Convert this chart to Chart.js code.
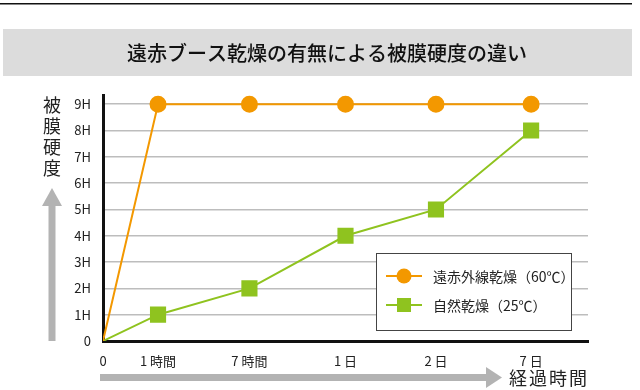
<!DOCTYPE html>
<html>
<head>
<meta charset="utf-8">
<script src="https://cdn.jsdelivr.net/npm/chart.js@4"></script>
<style>
  html, body { margin: 0; padding: 0; background: #fff; }
  canvas { display: block; }
</style>
</head>
<body>
<canvas id="myChart" width="640" height="390"></canvas>
<script>
const xLabels = ['0', '1 時間', '7 時間', '1 日', '2 日', '7 日']
// x positions (first step is shorter)
const xPos = [0, 0.59, 1.57, 2.6, 3.57, 4.59]
const yTicks = [0, 1, 2, 3, 4, 5, 6, 7, 8, 9]
const yLabels = ['0', '1H', '2H', '3H', '4H', '5H', '6H', '7H', '8H', '9H']
const farInfrared = [0, 9, 9, 9, 9, 9]
const natural = [0, 1, 2, 4, 5, 8]

const FONT = '"Noto Sans CJK JP", "Noto Sans", sans-serif'

const toPoints = vals => vals.map((v, i) => ({ x: xPos[i], y: v }))

const decor = {
  id: 'decor',
  beforeDraw(chart) {
    const ctx = chart.ctx
    ctx.save()
    ctx.fillStyle = '#fff'
    ctx.fillRect(0, 0, chart.width, chart.height)

    // top rule
    ctx.fillStyle = '#111'
    ctx.fillRect(0, 3, 632, 1.5)

    // title band
    ctx.fillStyle = '#dcdcdc'
    ctx.fillRect(3, 29, 629, 47)
    ctx.fillStyle = '#111'
    ctx.font = '500 20px ' + FONT
    ctx.textAlign = 'center'
    ctx.textBaseline = 'middle'
    ctx.fillText('遠赤ブース乾燥の有無による被膜硬度の違い', 327, 53)

    // y title, stacked
    ctx.font = '18px ' + FONT
    ctx.fillStyle = '#222'
    '被膜硬度'.split('').forEach((c, i) => ctx.fillText(c, 52, 105 + i * 21))

    // up arrow
    ctx.fillStyle = '#b3b3b3'
    ctx.fillRect(48.5, 203, 7, 138)
    ctx.beginPath()
    ctx.moveTo(52, 188)
    ctx.lineTo(62, 206)
    ctx.lineTo(42, 206)
    ctx.closePath()
    ctx.fill()

    // right arrow
    ctx.fillRect(100, 374, 390, 7)
    ctx.beginPath()
    ctx.moveTo(502, 377.5)
    ctx.lineTo(486, 367)
    ctx.lineTo(486, 388)
    ctx.closePath()
    ctx.fill()

    ctx.fillStyle = '#222'
    ctx.font = '18px ' + FONT
    ctx.textAlign = 'left'
    '経過時間'.split('').forEach((c, i) => ctx.fillText(c, 509 + i * 20, 378))
    ctx.restore()
  },
  afterDraw(chart) {
    const ctx = chart.ctx
    ctx.save()
    ctx.fillStyle = '#fff'
    ctx.fillRect(376.5, 253.5, 195, 77)
    ctx.strokeStyle = '#444'
    ctx.lineWidth = 1
    ctx.strokeRect(376.5, 253.5, 195, 77)

    const rows = [276, 305]
    chart.data.datasets.forEach((ds, i) => {
      const y = rows[i]
      ctx.strokeStyle = ds.borderColor
      ctx.lineWidth = 2
      ctx.beginPath()
      ctx.moveTo(386, y)
      ctx.lineTo(422, y)
      ctx.stroke()
      ctx.fillStyle = ds.pointBackgroundColor
      if (ds.pointStyle === 'rect') {
        ctx.fillRect(397, y - 7, 14, 14)
      } else {
        ctx.beginPath()
        ctx.arc(404, y, 7.5, 0, Math.PI * 2)
        ctx.fill()
      }
      ctx.fillStyle = '#222'
      ctx.font = '14px ' + FONT
      ctx.textAlign = 'left'
      ctx.textBaseline = 'middle'
      ctx.fillText(ds.label, 433, y + 1)
    })
    ctx.restore()
  }
}

const data = {
  datasets: [{
    label: '遠赤外線乾燥（60℃）',
    data: toPoints(farInfrared),
    borderColor: '#f39800',
    pointBackgroundColor: '#f39800',
    pointBorderColor: '#f39800',
    pointStyle: 'circle',
    pointRadius: [0, 7.5, 7.5, 7.5, 7.5, 7.5],
    borderWidth: 2
  }, {
    label: '自然乾燥（25℃）',
    data: toPoints(natural),
    borderColor: '#8fc31f',
    pointBackgroundColor: '#8fc31f',
    pointBorderColor: '#8fc31f',
    pointStyle: 'rect',
    pointRadius: [0, 10, 10, 10, 10, 10],
    borderWidth: 2
  }]
}

var myChart = new Chart(document.getElementById('myChart'), {
  type: 'line',
  data,
  plugins: [decor],
  options: {
    responsive: false,
    animation: false,
    devicePixelRatio: 1,
    layout: { padding: { top: 95, right: 52, left: 0, bottom: 0 } },
    plugins: {
      legend: { display: false },
      tooltip: { enabled: false }
    },
    scales: {
      x: {
        type: 'linear',
        min: 0,
        max: 5.2,
        afterBuildTicks: axis => { axis.ticks = xPos.map(v => ({ value: v })) },
        afterFit: axis => { axis.height = 49 },
        grid: { display: false },
        border: { color: '#111', width: 3 },
        ticks: {
          autoSkip: false,
          maxRotation: 0,
          padding: 4,
          color: '#222',
          font: { family: FONT, size: 13 },
          callback: (v, i) => xLabels[i]
        }
      },
      y: {
        min: 0,
        max: 9.35,
        afterBuildTicks: axis => { axis.ticks = yTicks.map(v => ({ value: v })) },
        afterFit: axis => { axis.width = 103 },
        grid: { color: '#bdbdbd', lineWidth: 1.5, drawTicks: false },
        border: { color: '#111', width: 3 },
        ticks: {
          padding: 12,
          color: '#222',
          font: { family: FONT, size: 13 },
          callback: (v, i) => yLabels[i]
        }
      }
    }
  }
})
</script>
</body>
</html>
